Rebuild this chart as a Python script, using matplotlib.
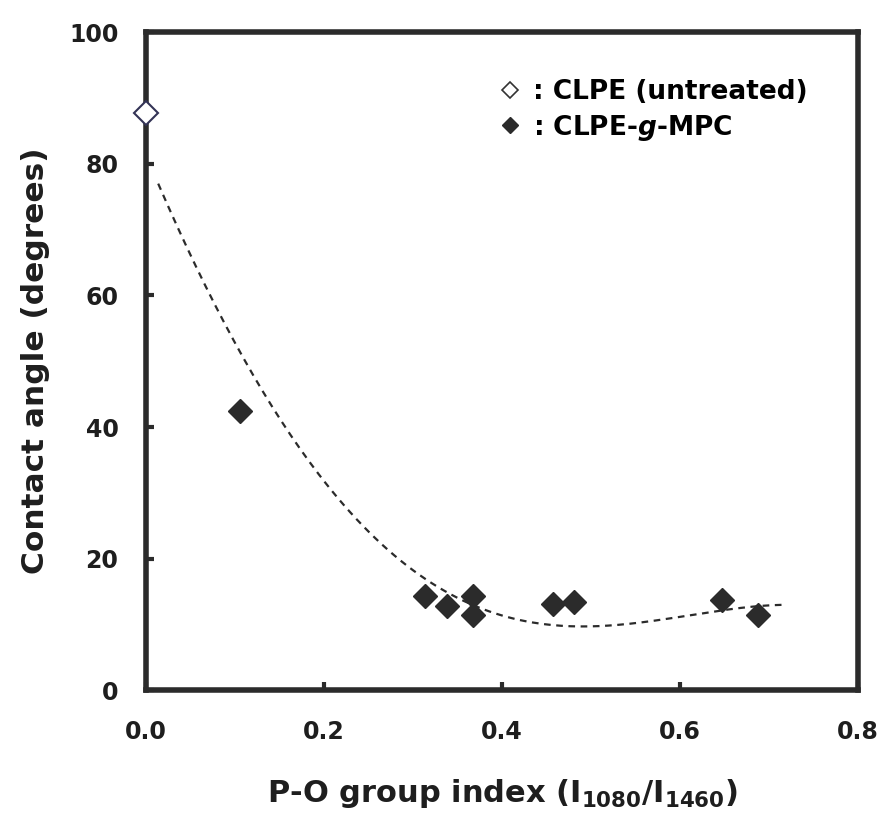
import matplotlib
matplotlib.use("Agg")
import matplotlib.pyplot as plt
from matplotlib.lines import Line2D
import numpy as np

plt.rcParams['font.family'] = ['DejaVu Sans']
plt.rcParams['font.weight'] = 'bold'
plt.rcParams['mathtext.fontset'] = 'dejavusans'

# untreated CLPE
x_untreated = [0.0]
y_untreated = [87.7]

# CLPE-g-MPC
x_graft = [0.106, 0.314, 0.338, 0.368, 0.368, 0.458, 0.481, 0.647, 0.688]
y_graft = [42.4, 14.3, 12.8, 14.4, 11.4, 13.1, 13.5, 13.8, 11.4]

# dashed trend line
x_trend = [0.0135, 0.096, 0.1675, 0.261, 0.318, 0.378, 0.532, 0.637, 0.718]
y_trend = [77.0, 53.5, 38.3, 22.4, 16.3, 12.6, 10.2, 11.7, 13.1]

ink = '#2b2b2b'
txt = '#1e1e1e'

fig = plt.figure(figsize=(8.86, 8.21), dpi=100)
ax = fig.add_axes([0.165, 0.159, 0.803, 0.802])

# smooth trend through the read points
coef = np.polyfit(x_trend, y_trend, 4)
xs = np.linspace(x_trend[0], x_trend[-1], 200)
ax.plot(xs, np.polyval(coef, xs), ls=(0, (3, 2.5)), color=ink, lw=1.6)

ax.plot(x_graft, y_graft, 'D', ms=12.5, color=ink, mec=ink, clip_on=False)
ax.plot(x_untreated, y_untreated, 'D', ms=12.5, mfc='white', mec='#333355',
        mew=1.5, clip_on=False, zorder=5)

ax.set_xlim(0, 0.8)
ax.set_ylim(0, 100)
ax.set_xticks([0.0, 0.2, 0.4, 0.6, 0.8])
ax.set_xticklabels(['0.0', '0.2', '0.4', '0.6', '0.8'])
ax.set_yticks([0, 20, 40, 60, 80, 100])

for s in ax.spines.values():
    s.set_linewidth(4)
    s.set_color(ink)
ax.tick_params(direction='in', length=6, width=3, color=ink,
               labelsize=17, labelcolor=txt)
ax.tick_params(axis='x', pad=21)
ax.tick_params(axis='y', pad=20)

ax.set_xlabel(r'P-O group index (I$_{\mathbf{1080}}$/I$_{\mathbf{1460}}$)',
              fontsize=22, fontweight='bold', color=txt, labelpad=24)
ax.set_ylabel('Contact angle (degrees)', fontsize=22.5, fontweight='bold',
              color=txt, labelpad=14)

handles = [
    Line2D([], [], ls='none', marker='D', ms=8.5, mfc='white', mec='#333333', mew=1.2),
    Line2D([], [], ls='none', marker='D', ms=8.5, color=ink),
]
labels = [': CLPE (untreated)', r': CLPE-$\mathit{g}$-MPC']
ax.legend(handles, labels, loc='upper right', bbox_to_anchor=(0.945, 0.945),
          frameon=False, fontsize=19, handletextpad=0.4, handlelength=1.0,
          labelspacing=0.3, borderaxespad=0)

fig.savefig('out.png', dpi=100)
